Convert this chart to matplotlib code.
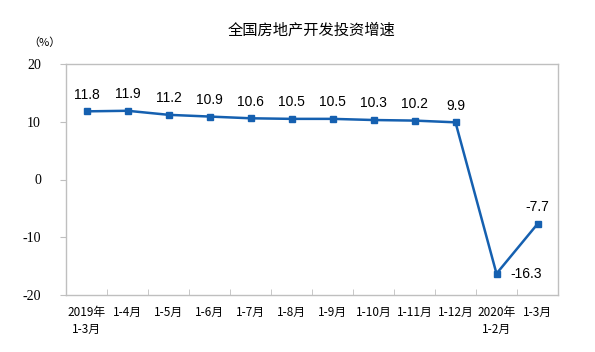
import numpy as np
import matplotlib
matplotlib.use("Agg")
from matplotlib import pyplot as plt

plt.rcParams['font.family'] = ['Noto Sans CJK SC', 'DejaVu Sans']

categories = ['2019年\n1-3月', '1-4月', '1-5月', '1-6月', '1-7月', '1-8月',
              '1-9月', '1-10月', '1-11月', '1-12月', '2020年\n1-2月', '1-3月']
values = [11.8, 11.9, 11.2, 10.9, 10.6, 10.5, 10.5, 10.3, 10.2, 9.9, -16.3, -7.7]
title = '全国房地产开发投资增速'

blue = '#1560B0'
frame = '#BFBFBF'

fig = plt.figure(figsize=(5.95, 3.52), dpi=100)
ax = fig.add_axes([66/595, 1 - 295/352, (558-66)/595, (295-64)/352])

x = np.arange(len(values))
ax.plot(x, values, color=blue, lw=1.8, marker='s', ms=5, zorder=3)

for i, v in enumerate(values):
    if i == 10:
        ax.annotate(f'{v:.1f}', (i, v), xytext=(10, 0), textcoords='offset points',
                    ha='left', va='center', fontsize=10, family='Liberation Sans')
    else:
        ax.annotate(f'{v:.1f}', (i, v), xytext=(0, 7), textcoords='offset points',
                    ha='center', va='bottom', fontsize=10, family='Liberation Sans')

ax.set_xlim(-0.5, len(values) - 0.5)
ax.set_ylim(-20, 20)
ax.set_yticks([-20, -10, 0, 10, 20])
ax.set_yticklabels(['-20', '-10', '0', '10', '20'], family='Liberation Serif', fontsize=10)

ax.set_xticks(x)
ax.set_xticklabels(categories, fontsize=8.5, linespacing=1.4)
ax.set_xticks(np.arange(len(values) + 1) - 0.5, minor=True)
ax.tick_params(axis='x', which='major', length=0, pad=8)
ax.tick_params(axis='x', which='minor', direction='in', length=4, color=frame)
ax.tick_params(axis='y', direction='out', length=4, color=frame, pad=14)

for sp in ax.spines.values():
    sp.set_color(frame)
    sp.set_linewidth(1)

fig.text(44/595, 1 - 43/352, '（%）', fontsize=8, ha='center', va='center')
fig.text(312/595, 1 - 30/352, title, fontsize=11, ha='center', va='center')

fig.savefig('out.png', dpi=100)
